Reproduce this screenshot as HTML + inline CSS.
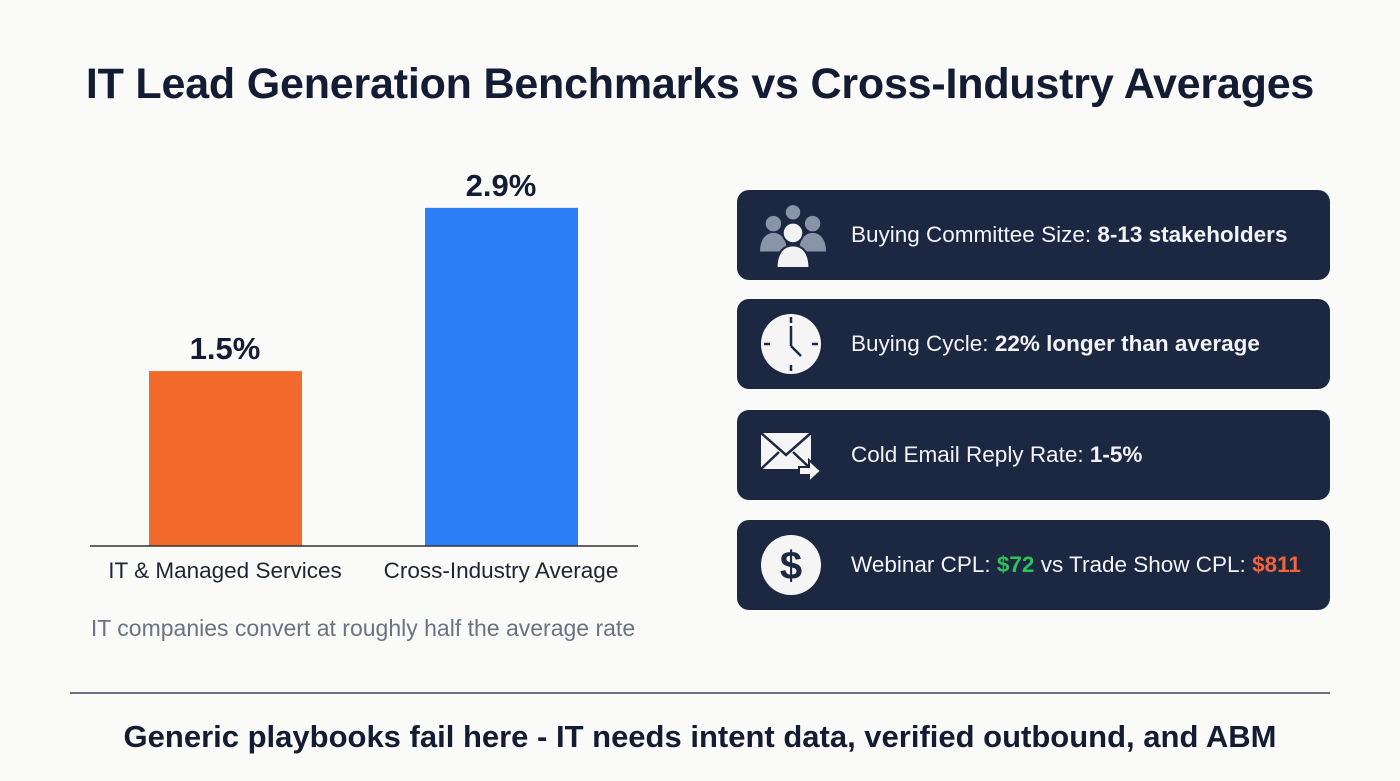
<!DOCTYPE html>
<html><head><meta charset="utf-8"><style>
body{margin:0;width:1400px;height:781px;background:#fafaf8;font-family:"Liberation Sans",sans-serif;position:relative;overflow:hidden}
.abs{position:absolute}
.title{left:0;width:1400px;top:60px;text-align:center;font-size:43px;font-weight:bold;color:#141c33;letter-spacing:-0.2px}
.card{left:737px;width:593px;height:90px;background:#1c2742;border-radius:12px}
.card .t{position:absolute;left:114px;top:0;line-height:90px;font-size:22.5px;color:#f2f4f8;white-space:nowrap}
.card svg{position:absolute;left:22px;top:13px}
b{font-weight:bold}
</style></head><body>
<div class="abs title">IT Lead Generation Benchmarks vs Cross-Industry Averages</div>
<svg class="abs" style="left:0;top:0" width="700" height="660" id="chart"></svg>
<div class="abs" style="left:0;width:726px;top:615px;text-align:center;font-size:23px;color:#6b7280">IT companies convert at roughly half the average rate</div>

<div class="abs card" style="top:190px">
<svg width="68" height="66" viewBox="0 0 64 64">
<g fill="#8a94a8"><circle cx="32" cy="9" r="7"/><circle cx="13" cy="20" r="7.5"/><circle cx="51" cy="20" r="7.5"/>
<path d="M0 47c0-12 6-18 13-18s13 6 13 18z"/><path d="M38 47c0-12 6-18 13-18s13 6 13 18z"/></g>
<circle cx="32" cy="29" r="10" fill="#f2f2f2" stroke="#1c2742" stroke-width="2"/>
<path d="M16 63c0-15 7-22 16-22s16 7 16 22z" fill="#f2f2f2" stroke="#1c2742" stroke-width="2"/></svg>
<div class="t">Buying Committee Size: <b>8-13 stakeholders</b></div></div>

<div class="abs card" style="top:299px">
<svg width="64" height="64" viewBox="0 0 64 64">
<circle cx="32" cy="32" r="30" fill="#f5f5f5"/>
<g stroke="#1c2742" stroke-width="2.5"><line x1="32" y1="5" x2="32" y2="11"/><line x1="32" y1="53" x2="32" y2="59"/><line x1="5" y1="32" x2="11" y2="32"/><line x1="53" y1="32" x2="59" y2="32"/>
<line x1="32" y1="14" x2="32" y2="34"/><line x1="32" y1="34" x2="42" y2="44"/></g></svg>
<div class="t">Buying Cycle: <b>22% longer than average</b></div></div>

<div class="abs card" style="top:410px">
<svg width="64" height="64" viewBox="0 0 64 64">
<rect x="2" y="10" width="50" height="36" fill="#f5f5f5"/><path d="M2 10l25 22 25-22M2 46l18-17M52 46l-18-17" stroke="#1c2742" stroke-width="2.5" fill="none"/>
<path d="M40 44h10v-7l12 11-12 11v-7h-10z" fill="#f5f5f5" stroke="#1c2742" stroke-width="2"/></svg>
<div class="t">Cold Email Reply Rate: <b>1-5%</b></div></div>

<div class="abs card" style="top:520px">
<svg width="64" height="64" viewBox="0 0 64 64">
<circle cx="32" cy="32" r="30" fill="#f5f5f5"/>
<text x="32" y="46" text-anchor="middle" font-size="40" font-weight="bold" fill="#1c2742" font-family="Liberation Sans">$</text></svg>
<div class="t">Webinar CPL: <b style="color:#2ec25a">$72</b> vs Trade Show CPL: <b style="color:#f0643a">$811</b></div></div>

<div class="abs" style="left:70px;top:692px;width:1260px;height:2px;background:#6b7280"></div>
<div class="abs" style="left:0;width:1400px;top:719px;text-align:center;font-size:31px;font-weight:bold;color:#141c33">Generic playbooks fail here - IT needs intent data, verified outbound, and ABM</div>

<script>
const categories=["IT & Managed Services","Cross-Industry Average"];
const values=[1.5,2.9];
const valueLabels=["1.5%","2.9%"];
const colors=["#f26a2c","#2b7ef5"];
const svg=document.getElementById('chart');
const NS="http://www.w3.org/2000/svg";
const base=546, scale=116.6;
const y=v=>base-v*scale;
const xc=i=>225+i*276;
function mk(t,a){const e=document.createElementNS(NS,t);for(const k in a)e.setAttribute(k,a[k]);svg.appendChild(e);return e;}
values.forEach((v,i)=>{
 const r=mk('rect',{x:xc(i)-76,y:y(v),width:153,height:base-y(v),fill:colors[i]});
 
 
 const t=mk('text',{x:xc(i),y:y(v)-12,'text-anchor':'middle','font-size':31,'font-weight':'bold',fill:'#141c33','font-family':'Liberation Sans'});
 t.textContent=valueLabels[i];
 
 
 const c=mk('text',{x:xc(i),y:578,'text-anchor':'middle','font-size':22.5,fill:'#1f2533','font-family':'Liberation Sans'});
 c.textContent=categories[i];
 
 
});
const ax=mk('line',{x1:90,x2:638,y1:base,y2:base,stroke:'#333','stroke-width':1.5});


</script>
</body></html>
